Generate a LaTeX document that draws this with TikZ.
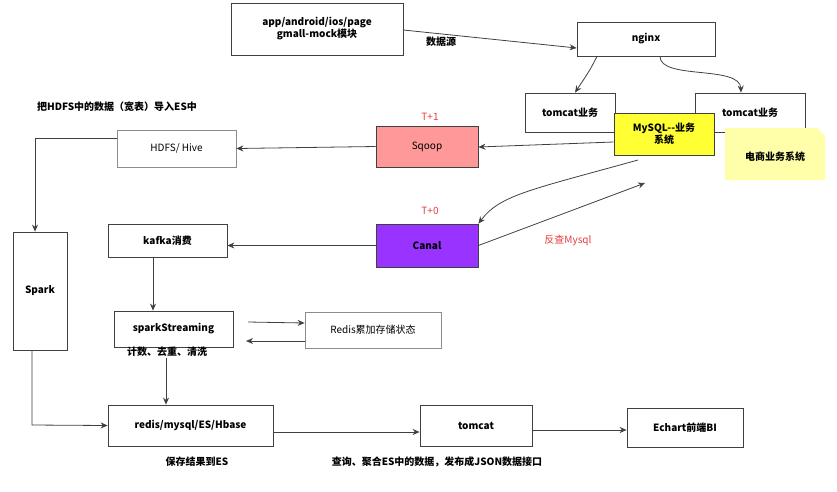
\documentclass[tikz,border=0pt]{standalone}
\usepackage{fontspec}
\setmainfont{Noto Sans CJK SC}
\usetikzlibrary{arrows.meta}
\definecolor{mysqlyellow}{RGB}{255,255,51}
\definecolor{noteyellow}{RGB}{255,255,170}
\definecolor{sqooppink}{RGB}{255,153,153}
\definecolor{canalpurple}{RGB}{153,51,255}
\definecolor{tred}{RGB}{230,60,60}
\begin{document}
\begin{tikzpicture}[x=1pt,y=-1pt,
  box/.style={draw=black!75,line width=0.8pt,fill=white,inner sep=0pt,font=\fontsize{10}{12}\selectfont},
  bbox/.style={box,font=\fontsize{10}{12}\selectfont\bfseries},
  lbl/.style={inner sep=0.75pt,font=\fontsize{10}{12}\selectfont},
  blbl/.style={lbl,font=\fontsize{10}{12}\selectfont\bfseries},
  arr/.style={draw=black!75,line width=0.8pt,-{Stealth[length=7pt,width=6pt]}}]
\useasboundingbox (0,0) rectangle (837,491);

%Boxes
\node[bbox,minimum width=172,minimum height=52,align=center] (app) at (317,29) {app/android/ios/page\\gmall-mock模块};
\node[bbox,minimum width=138,minimum height=34] (nginx) at (646,39) {nginx};
\node[bbox,minimum width=90,minimum height=39] (tcl) at (570,112.5) {tomcat业务};
\node[bbox,minimum width=110,minimum height=39] (tcr) at (750,112.5) {tomcat业务};
\node[bbox,fill=mysqlyellow,minimum width=100,minimum height=42,align=center] (mysql) at (664,134) {MySQL{-}{-}业务\\系统};
% note
\fill[noteyellow] (725,128) -- (817,128) -- (825,136) -- (825,180) -- (725,180) -- cycle;
\node[blbl] (note) at (775,157) {电商业务系统};
\node[box,fill=sqooppink,minimum width=102,minimum height=41] (sqoop) at (427,146.5) {Sqoop};
\node[lbl,text=tred] (t1) at (430,117) {T+1};
\node[box,draw=black!45,minimum width=119,minimum height=37] (hdfs) at (176.5,148.5) {HDFS/ Hive};
\node[blbl] (hint) at (117,107) {把HDFS中的数据（宽表）导入ES中};
\node[bbox,minimum width=54,minimum height=118] (spark) at (40,291) {Spark};
\node[bbox,fill=canalpurple,minimum width=102,minimum height=43] (canal) at (427,245.5) {Canal};
\node[lbl,text=tred] (t0) at (430,211) {T+0};
\node[bbox,minimum width=119,minimum height=33] (kafka) at (167.5,240.5) {kafka消费};
\node[bbox,minimum width=119,minimum height=36] (ss) at (173.5,329) {sparkStreaming};
\node[blbl] (ssnote) at (167,352) {计数、去重、清洗};
\node[box,draw=black!45,minimum width=136,minimum height=36] (redis) at (373,330) {Redis累加存储状态};
\node[bbox,minimum width=165,minimum height=41] (store) at (190.5,425.5) {redis/mysql/ES/Hbase};
\node[blbl] (save) at (197,462) {保存结果到ES};
\node[bbox,minimum width=112,minimum height=41] (tc) at (476,425.5) {tomcat};
\node[blbl] (query) at (437,462) {查询、聚合ES中的数据，发布成JSON数据接口};
\node[bbox,minimum width=116,minimum height=39] (bi) at (685,427.5) {Echart前端BI};
\node[blbl] (src) at (441,42) {数据源};
\node[lbl,text=tred] (back) at (568,240) {反查Mysql};

%Connectors
\coordinate (c1) at (645,183);
\coordinate (c2) at (638,160);
\draw[arr] (app.east |- 0,30) -- (nginx.west |- 0,48);
\draw[arr] (nginx.south -| 597,0) .. controls (590,70) .. (tcl.north -| 575,0);
\draw[arr] (nginx.south -| 660,0) .. controls (660,80) and (740,65) .. (tcr.north -| 741,0);
\draw[arr] (mysql.west |- 0,142) -- (sqoop.east |- 0,147);
\draw[arr] (sqoop.west) -- (hdfs.east);
\draw[arr] (hdfs.west |- 0,138) -- (35,138) -- (spark.north -| 35,0);
\draw[arr] (c2) .. controls (530,190) and (500,195) .. (canal.north east);
\draw[arr] (canal.east) -- (c1);
\draw[arr] (canal.west) -- (kafka.east |- canal.west);
\draw[arr] (kafka.south -| 153,0) -- (ss.north -| 153,0);
\draw[arr] (248,322) -- (redis.west |- 0,323);
\draw[arr] (redis.west |- 0,341) -- (246,341);
\draw[arr] (ssnote.south -| 166,0) -- (store.north -| 166,0);
\draw[arr] (spark.south -| 32,0) -- (32,425) -- (store.west);
\draw[arr] (store.east |- 0,432) -- (tc.west |- 0,432);
\draw[arr] (tc.east |- 0,430) -- (bi.west |- 0,430);
\end{tikzpicture}
\end{document}
